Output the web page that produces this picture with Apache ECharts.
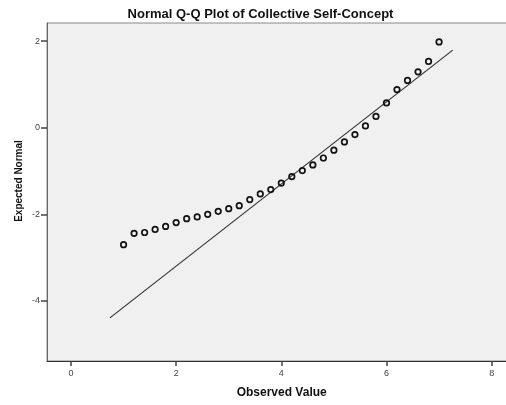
<!DOCTYPE html>
<html>
<head>
<meta charset="utf-8">
<script src="https://cdn.jsdelivr.net/npm/echarts@6/dist/echarts.min.js"></script>
<style>html,body{margin:0;padding:0;background:#fff;}#c{width:506px;height:405px;}</style>
</head>
<body>
<div id="c"></div>
<script>
const observed = [1.0,1.2,1.4,1.6,1.8,2.0,2.2,2.4,2.6,2.8,3.0,3.2,3.4,3.6,3.8,4.0,4.2,4.4,4.6,4.8,5.0,5.2,5.4,5.6,5.8,6.0,6.2,6.4,6.6,6.8,7.0];
const expected = [-2.70,-2.44,-2.42,-2.35,-2.28,-2.19,-2.10,-2.06,-2.00,-1.93,-1.87,-1.80,-1.66,-1.53,-1.43,-1.28,-1.13,-0.99,-0.86,-0.70,-0.52,-0.33,-0.16,0.04,0.26,0.57,0.88,1.09,1.29,1.53,1.98];
const lineX = [0.74, 7.26];
const lineY = [-4.39, 1.79];
const xTicks = [0,2,4,6,8];
const yTicks = [-4,-2,0,2];
const titleText = 'Normal Q-Q Plot of Collective Self-Concept';
const xName = 'Observed Value';
const yName = 'Expected Normal';

const chart = echarts.init(document.getElementById('c'), null, {renderer:'canvas'});
const font = '"Liberation Sans", Arial, sans-serif';
chart.setOption({
  animation:false,
  backgroundColor:'#fff',
  grid:{left:47, top:23, right:-3, bottom:44, show:true, backgroundColor:'#f0f0f0', borderColor:'#888', borderWidth:1, containLabel:false, outerBoundsMode:'none'},
  xAxis:{type:'value', min:-0.456, max:8.33,
    axisLine:{show:true, onZero:false, lineStyle:{color:'#333', width:1}},
    axisTick:{show:true, length:5, customValues:xTicks, lineStyle:{color:'#444', width:1.5}},
    axisLabel:{customValues:xTicks, margin:8, fontSize:9, color:'#444', fontFamily:font},
    splitLine:{show:false}},
  yAxis:{type:'value', min:-5.386, max:2.416,
    axisLine:{show:true, onZero:false, lineStyle:{color:'#666', width:1}},
    axisTick:{show:true, length:6, customValues:yTicks, lineStyle:{color:'#444', width:1.5}},
    axisLabel:{customValues:yTicks, margin:7, fontSize:9, color:'#444', fontFamily:font},
    splitLine:{show:false}},
  graphic:[
    {type:'text', style:{text:titleText, x:260.5, y:14, textAlign:'center', textVerticalAlign:'middle', font:'bold 13px '+font, fill:'#111'}},
    {type:'text', style:{text:xName, x:281.7, y:392.7, textAlign:'center', textVerticalAlign:'middle', font:'bold 12px '+font, fill:'#111'}},
    {type:'text', x:19.5, y:181, rotation:Math.PI/2, style:{text:yName, x:0, y:0, textAlign:'center', textVerticalAlign:'middle', font:'bold 10px '+font, fill:'#111'}}
  ],
  series:[
    {type:'line', data:lineX.map((x,i)=>[x,lineY[i]]), symbol:'none', lineStyle:{color:'#333', width:1.2}, z:2},
    {type:'scatter', data:observed.map((x,i)=>[x,expected[i]]), symbol:'circle', symbolSize:5.5,
      itemStyle:{color:'rgba(0,0,0,0)', borderColor:'#111', borderWidth:1.7, opacity:1}, z:3}
  ]
});
</script>
</body>
</html>
